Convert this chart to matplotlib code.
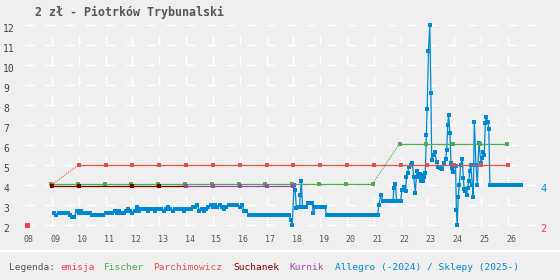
import numpy as np
import matplotlib
matplotlib.use("Agg")
import matplotlib.pyplot as plt
from matplotlib.lines import Line2D

plt.rcParams['font.family'] = ['DejaVu Sans Mono']
plt.rcParams['lines.scale_dashes'] = False

title = "2 zł - Piotrków Trybunalski"
years = list(range(2008, 2027))
year_labels = ["08", "09", "10", "11", "12", "13", "14", "15", "16", "17",
               "18", "19", "20", "21", "22", "23", "24", "25", "26"]
y_values = [2, 3, 4, 5, 6, 7, 8, 9, 10, 11, 12]

# catalogue prices
emisja_x = [2008.07]
emisja_y = [2.0]

parch_x = [2009, 2010, 2011, 2012, 2013, 2014, 2015, 2016, 2017, 2018,
           2019, 2020, 2021, 2022, 2023, 2024, 2025, 2026]
parch_y = [4.0, 5.0, 5.0, 5.0, 5.0, 5.0, 5.0, 5.0, 5.0, 5.0,
           5.0, 5.0, 5.0, 5.0, 5.0, 5.0, 5.0, 5.0]

fischer_x = [2008.96, 2009.96, 2010.96, 2011.96, 2012.96, 2013.96, 2014.96,
             2015.96, 2016.96, 2017.96, 2018.96, 2019.96, 2020.96,
             2021.96, 2022.96, 2023.96, 2024.96, 2025.96]
fischer_y = [4.05, 4.05, 4.05, 4.05, 4.05, 4.05, 4.05,
             4.05, 4.05, 4.05, 4.05, 4.05, 4.05,
             6.05, 6.05, 6.05, 6.05, 6.05]

suchanek_x = [2009, 2010, 2012, 2013, 2014]
suchanek_y = [3.95, 3.95, 3.95, 3.95, 3.95]

kurnik_x = [2014, 2015, 2016, 2017, 2018]
kurnik_y = [3.95, 3.95, 3.95, 3.95, 3.95]

# Allegro monthly, Feb 2009 - Nov 2017
allegro_monthly = [
    2.6, 2.5, 2.6, 2.6, 2.6, 2.6, 2.6, 2.5, 2.4, 2.4, 2.7,
    2.6, 2.7, 2.6, 2.6, 2.6, 2.6, 2.5, 2.5, 2.5, 2.5, 2.5, 2.5,
    2.6, 2.6, 2.6, 2.6, 2.7, 2.6, 2.7, 2.6, 2.6, 2.7, 2.8, 2.7,
    2.6, 2.7, 2.9, 2.7, 2.8, 2.8, 2.8, 2.7, 2.8, 2.8, 2.7, 2.8,
    2.8, 2.8, 2.7, 2.8, 2.9, 2.8, 2.7, 2.8, 2.8, 2.8, 2.8, 2.7,
    2.8, 2.8, 2.8, 2.9, 2.9, 3.0, 2.7, 2.8, 2.7, 2.8, 2.9, 3.0,
    2.9, 3.0, 2.9, 3.0, 2.9, 2.8, 2.9, 3.0, 3.0, 3.0, 3.0, 3.0,
    2.9, 3.0, 2.7, 2.7, 2.5, 2.5, 2.5, 2.5, 2.5, 2.5, 2.5, 2.5,
    2.5, 2.5, 2.5, 2.5, 2.5, 2.5, 2.5, 2.5, 2.5, 2.5, 2.5,
]

# Allegro / shops, Dec 2017 onwards
allegro_x = [
    2017.91, 2017.96, 2018.03, 2018.07, 2018.11, 2018.17, 2018.23, 2018.26,
    2018.30, 2018.34, 2018.40, 2018.47, 2018.54, 2018.62, 2018.69, 2018.75,
    2018.81, 2018.88, 2018.95, 2019.03, 2019.10, 2019.18, 2019.24, 2019.32,
    2019.40, 2019.49, 2019.57, 2019.65, 2019.74, 2019.82, 2019.90, 2019.99,
    2020.07, 2020.15, 2020.24, 2020.32, 2020.40, 2020.49, 2020.57, 2020.65,
    2020.74, 2020.82, 2020.90, 2020.99, 2021.07, 2021.15, 2021.19, 2021.27,
    2021.33, 2021.42, 2021.53, 2021.64, 2021.72, 2021.75, 2021.81, 2021.85,
    2021.91, 2022.00, 2022.05, 2022.13, 2022.19, 2022.22, 2022.26, 2022.31,
    2022.37, 2022.43, 2022.49, 2022.55, 2022.60, 2022.66, 2022.72, 2022.76,
    2022.81, 2022.84, 2022.88, 2022.92, 2022.96, 2022.99, 2023.04, 2023.09,
    2023.13, 2023.16, 2023.22, 2023.28, 2023.34, 2023.40, 2023.47, 2023.55,
    2023.63, 2023.68, 2023.72, 2023.76, 2023.79, 2023.84, 2023.88, 2023.92,
    2023.96, 2024.00, 2024.05, 2024.08, 2024.11, 2024.15, 2024.19, 2024.24,
    2024.30, 2024.34, 2024.37, 2024.42, 2024.46, 2024.50, 2024.55, 2024.58,
    2024.62, 2024.67, 2024.71, 2024.75, 2024.81, 2024.86, 2024.92, 2025.00,
    2025.03, 2025.08, 2025.12, 2025.16, 2025.19, 2025.25, 2025.29, 2025.33,
    2025.41, 2025.49, 2025.58, 2025.66, 2025.74, 2025.83, 2025.91, 2025.99,
    2026.08, 2026.16, 2026.24, 2026.33, 2026.41, 2026.50,
]
allegro_y = [
    2.25, 2.0, 4.0, 3.75, 2.85, 2.9, 2.9, 3.5,
    4.2, 2.9, 2.9, 2.9, 3.1, 3.1, 3.1, 2.6,
    2.9, 2.9, 2.9, 2.9, 2.9, 2.9, 2.5, 2.5,
    2.5, 2.5, 2.5, 2.5, 2.5, 2.5, 2.5, 2.5,
    2.5, 2.5, 2.5, 2.5, 2.5, 2.5, 2.5, 2.5,
    2.5, 2.5, 2.5, 2.5, 2.5, 2.5, 3.0, 3.5,
    3.2, 3.2, 3.2, 3.2, 3.2, 3.85, 4.05, 3.2,
    3.2, 3.2, 3.75, 3.9, 3.7, 4.4, 4.6, 4.9,
    5.0, 5.1, 4.4, 3.6, 4.7, 4.4, 4.55, 4.2,
    4.5, 4.2, 4.4, 4.6, 6.5, 7.8, 10.7, 12.0,
    8.6, 5.25, 5.5, 5.65, 5.15, 4.9, 4.85, 4.8,
    5.1, 5.3, 5.75, 7.0, 7.5, 6.6, 5.1, 4.85,
    4.65, 4.95, 4.95, 2.75, 2.0, 3.4, 4.0, 5.0,
    5.3, 4.35, 3.8, 3.7, 3.5, 3.85, 4.2, 4.7,
    5.0, 4.0, 3.4, 7.15, 5.0, 4.0, 6.1, 5.1,
    5.35, 5.65, 5.5, 7.1, 7.4, 7.15, 6.8, 4.0,
    4.0, 4.0, 4.0, 4.0, 4.0, 4.0, 4.0, 4.0,
    4.0, 4.0, 4.0, 4.0, 4.0, 4.0,
]

col_emisja = '#f04048'
col_parch = '#e0524c'
col_fischer = '#4cae4c'
col_suchanek = '#800000'
col_kurnik = '#a444b0'
col_allegro = '#0088d0'
bg = '#efefef'

fig = plt.figure(figsize=(5.6, 2.8), dpi=100, facecolor=bg)
ax = fig.add_axes([22.5 / 560, 52 / 280, 513.5 / 560, 205 / 280])
ax.set_facecolor(bg)
for s in ax.spines.values():
    s.set_visible(False)
ax.set_xlim(2007.9, 2027.05)
ax.set_ylim(1.85, 12.1)

# dashed white grid
for v in y_values:
    ax.plot([2008, 2027.05], [v, v], color='white', lw=1.0,
            linestyle=(0, (6.5, 8)), zorder=0)
for yr in years[1:]:
    ax.plot([yr, yr], [12, 1.85], color='white', lw=1.0,
            linestyle=(7, (6.5, 8)), zorder=0)

# allegro series
mx = 2009 + 1 / 12 + np.arange(len(allegro_monthly)) / 12
ax_x = np.concatenate([mx, allegro_x])
ax_y = np.concatenate([allegro_monthly, allegro_y])
ax.plot(ax_x, ax_y, '-', color=col_allegro, lw=0.9, zorder=2)
ax.plot(ax_x, ax_y, 's', color=col_allegro, ms=2.7, mew=0, zorder=2)


def draw_catalog(xs, ys, color):
    for i in range(len(xs) - 1):
        if ys[i] == ys[i + 1]:
            ax.plot(xs[i:i + 2], ys[i:i + 2], '-', color=color, lw=0.9, zorder=3)
        else:
            ax.plot(xs[i:i + 2], ys[i:i + 2], color=color, lw=0.8,
                    linestyle=(0, (0.8, 0.8)), zorder=3)
    ax.plot(xs, ys, 's', color=color, ms=2.4, mew=0, zorder=3)


draw_catalog(fischer_x, fischer_y, col_fischer)
draw_catalog(parch_x, parch_y, col_parch)
draw_catalog(suchanek_x, suchanek_y, col_suchanek)
draw_catalog(kurnik_x, kurnik_y, col_kurnik)
ax.plot(emisja_x, emisja_y, 's', color=col_emisja, ms=3.6, mew=0, zorder=3)

# ticks
ax.set_xticks([y + 0.13 for y in years])
ax.set_xticklabels(year_labels)
ax.tick_params(axis='x', length=0, pad=5, labelsize=6, labelcolor='#555555')
ax.set_yticks([v - 0.17 for v in y_values])
ax.set_yticklabels([str(v) for v in y_values])
ax.tick_params(axis='y', length=0, pad=14, labelsize=7, labelcolor='#444444')
for lab in ax.get_yticklabels():
    lab.set_horizontalalignment('left')

# last values on the right
ax.text(2027.2, 3.8, '4', color=col_allegro, fontsize=7.5, va='center',
        ha='left', clip_on=False)
ax.text(2027.2, 1.8, '2', color=col_emisja, fontsize=7.5, va='center',
        ha='left', clip_on=False)

fig.text(35 / 560, 1 - 12.5 / 280, title, fontsize=8.4, fontweight='bold',
         color='#555555', va='center', ha='left')

fig.add_artist(Line2D([0, 1], [1 - 251 / 280, 1 - 251 / 280],
                      transform=fig.transFigure, color='white', lw=1.6))

legend_items = [
    ("Legenda:", '#555555', 9),
    ("emisja", col_emisja, 60),
    ("Fischer", col_fischer, 104),
    ("Parchimowicz", col_parch, 153),
    ("Suchanek", col_suchanek, 233),
    ("Kurnik", col_kurnik, 289),
    ("Allegro (-2024) / Sklepy (2025-)", col_allegro, 335),
]
for txt, c, px in legend_items:
    fig.text(px / 560, 1 - 267 / 280, txt, color=c, fontsize=6.8,
             va='center', ha='left')

fig.savefig('out.png', dpi=100, facecolor=bg)
